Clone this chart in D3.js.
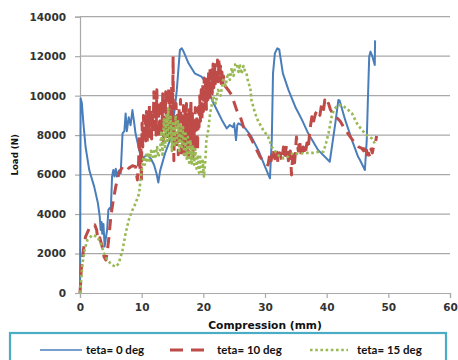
<!DOCTYPE html>
<html>
<head>
<meta charset="utf-8">
<script src="https://cdn.jsdelivr.net/npm/d3@7"></script>
<style>
  html, body { margin: 0; padding: 0; background: #fff; }
  svg { display: block; }
</style>
</head>
<body>
<svg id="chart" width="458" height="360"></svg>
<script>
// Load vs compression for three cutting angles: [compression (mm), load (N)]
const teta0 = [
  [0,0],[0.1,9870],[0.3,9630],[0.55,8600],[0.9,7410],[1.5,6230],[2.3,5390],[2.9,4560],
  [3.2,3870],[3.35,3190],[3.5,3600],[3.6,3000],[3.8,3500],[4.0,2350],[4.2,2800],[4.4,3190],
  [4.6,4200],[4.8,4300],[5.0,4250],[5.2,5890],[5.4,6230],[5.6,5900],[5.8,6300],[6.0,5900],
  [6.3,6200],[6.6,6065],[6.9,8090],[7.2,8200],[7.4,9100],[7.6,8200],[7.9,8900],[8.2,8500],
  [8.5,9270],[8.8,8600],[9.0,8090],[9.5,7400],[10.0,6700],[10.4,6900],[11.0,7000],[11.5,6800],
  [12.0,6500],[12.4,6065],[12.7,5600],[13.0,6200],[13.8,7080],[14.6,7750],[15.1,8600],
  [15.7,10290],[16.2,12310],[16.5,12400],[16.8,12230],[17.6,11640],[18.6,11130],[19.7,10960],
  [20.5,10630],[21.4,9780],[22.2,9270],[23.0,8770],[23.8,8340],[24.3,8510],[24.8,8400],
  [25.0,8600],[25.3,7750],[25.5,8500],[25.7,8600],[26.2,8510],[26.8,8340],[27.8,7920],
  [28.9,7250],[30.0,6400],[30.8,5810],[31.1,7750],[31.3,11130],[31.6,12140],[32.0,12400],
  [32.3,12350],[32.9,11130],[33.8,10290],[34.9,9440],[36.0,8770],[37.0,8090],[38.6,7250],
  [40.5,6650],[41.4,8600],[41.9,9780],[42.1,9750],[43.0,8770],[44.1,7750],[45.1,6900],
  [45.4,6740],[46.2,6230],[46.5,7750],[46.7,9950],[46.9,11980],[47.1,12230],[47.4,12000],
  [47.8,11550],[47.85,12800]
];

const teta10 = [
  [0,0],[0.1,500],[0.2,1170],[0.55,2180],[0.9,2850],[1.5,3280],[2.0,3360],[2.4,3450],
  [2.7,3190],[2.9,2690],[3.2,2800],[3.6,2350],[3.9,1840],[4.2,1670],[4.4,2010],[4.7,2850],
  [5.0,3870],[5.4,4710],[5.8,5390],[6.3,6065],[6.9,6400],[7.4,6490],[7.9,6320],[8.5,6450],
  [9.0,6400],[9.3,5730],
  [9.5,6600],[9.62,8000],[9.74,6200],[9.86,7800],[9.95,5600],[10.06,8600],[10.18,7400],
  [10.3,9000],[10.42,7600],[10.54,8900],[10.66,7700],[10.78,9200],[10.9,7600],[11.02,9300],
  [11.14,8100],[11.26,9500],[11.38,7900],[11.5,9300],[11.62,7800],[11.74,9100],[11.86,8200],
  [11.98,10200],[12.1,8700],[12.22,9600],[12.34,8000],[12.46,10300],[12.58,8800],[12.7,9700],
  [12.82,7900],[12.94,9400],[13.06,8500],[13.18,9800],[13.3,8200],[13.42,10100],[13.54,7700],
  [13.66,9500],[13.78,8100],[13.9,10200],[14.02,7800],[14.14,9300],[14.26,8300],[14.38,10400],
  [14.5,7900],[14.62,9700],[14.74,8500],[14.86,10500],[14.98,8200],[15.06,10600],[15.1,12000],
  [15.16,8300],[15.22,6700],[15.34,9000],[15.46,7800],[15.58,9600],[15.7,7300],[15.82,9200],
  [15.94,7000],[16.06,9400],[16.18,7600],[16.3,9800],[16.42,7100],[16.54,9000],[16.66,7400],
  [16.78,9500],[16.9,7000],[17.02,9200],[17.14,7600],[17.26,9600],[17.38,7200],[17.5,9000],
  [17.62,6900],[17.74,9300],[17.86,7800],[17.98,9800],[18.1,7500],[18.22,9100],[18.34,6900],
  [18.46,8700],[18.58,7300],[18.7,9400],[18.82,7600],[18.94,9000],[19.06,7200],[19.18,9400],
  [19.3,8400],[19.42,10000],[19.54,8700],[19.66,10300],[19.78,8800],[19.9,10600],[20.02,9200],
  [20.14,10900],[20.26,9400],[20.38,11000],[20.5,9300],[20.62,10700],[20.74,9800],[20.86,11200],
  [20.98,9900],[21.1,11500],[21.22,10300],[21.34,11300],[21.46,10100],[21.58,11600],[21.7,10400],
  [21.82,11700],[21.94,10600],[22.06,11300],[22.18,10500],[22.3,11800],[22.42,10700],[22.54,11900],
  [22.66,10900],[22.78,11500],[22.9,10600],[23.02,11200],[23.14,10500],[23.26,11000],[23.5,10500],
  [24.0,10300],[24.6,10030],[25.4,9270],[26.0,8930],[26.5,8430],[27.0,8200],[27.6,7920],
  [28.4,7410],[29.2,6900],[30.0,6570],[30.5,6490],[30.8,7100],[31.0,6700],[31.3,7300],
  [31.6,6800],[31.9,7250],[32.1,6600],[32.4,7100],[32.7,6700],[33.0,7400],[33.2,6900],
  [33.5,7500],[33.8,6700],[34.1,7200],[34.3,5980],[34.5,7000],[34.8,6600],[35.1,7900],
  [35.4,7200],[35.6,7750],[35.9,6900],[36.2,7400],[36.5,7000],[36.8,7600],[37.0,7300],
  [37.3,8300],[37.6,8930],[37.8,8600],[38.2,9100],[38.6,9270],[38.9,9000],[39.2,9600],
  [39.5,9300],[39.7,9780],[40.0,9500],[40.3,9610],[40.6,9300],[41.0,9100],[41.6,8900],
  [42.2,8700],[42.7,8430],[43.8,7920],[44.6,7590],[45.2,7400],[45.7,7330],[46.0,7200],
  [46.3,7500],[46.6,7000],[46.8,7080],[47.0,6900],[47.2,7300],[47.4,7100],[47.6,7410],
  [47.9,7600],[48.1,7950]
];

const teta15 = [
  [0,0],[0.2,700],[0.4,1500],[0.75,2180],[1.2,2690],[2.0,2940],[2.8,2850],[3.35,2520],
  [3.9,2010],[4.4,1670],[5.2,1420],[5.8,1330],[6.3,1500],[6.9,2180],[7.4,3020],[7.9,3700],
  [8.5,4200],[9.0,4540],[9.6,5050],[9.8,5730],[10.1,6400],[10.3,6900],[10.5,6500],[10.7,7000],
  [10.9,6600],[11.1,7100],[11.3,6700],[11.5,7200],[11.8,6900],[12.0,7300],[12.2,6800],
  [12.5,7400],[12.7,6900],[13.0,7250],[13.2,8200],[13.4,6900],[13.6,8800],[13.8,7400],
  [14.0,9000],[14.2,7600],[14.3,9360],[14.5,7700],[14.7,8930],[14.9,7200],[15.1,8600],
  [15.3,7400],[15.5,9000],[15.7,7600],[15.9,8700],[16.1,7200],[16.3,8500],[16.5,7400],
  [16.7,8400],[16.9,6900],[17.1,8200],[17.3,6800],[17.5,7900],[17.7,6600],[17.9,7750],
  [18.1,6570],[18.3,7500],[18.5,6500],[18.7,7300],[18.9,6300],[19.1,7000],[19.3,6100],
  [19.5,6900],[19.7,6000],[19.9,6700],[20.1,5900],[20.3,6600],[20.5,7750],[20.8,8260],
  [21.1,9100],[21.6,9950],[22.0,9600],[22.4,10290],[22.8,10000],[23.2,10790],[23.6,10500],
  [24.0,11130],[24.3,10800],[24.6,11400],[24.9,11000],[25.2,11600],[25.4,11640],[25.7,11200],
  [25.9,11600],[26.2,11100],[26.5,11500],[26.8,11200],[27.0,11130],[27.3,10630],[27.6,10450],
  [27.8,9780],[28.1,9440],[28.4,9100],[28.9,8700],[29.7,8260],[30.5,7920],[31.1,7410],
  [31.6,7200],[32.4,6900],[33.0,6820],[33.5,6850],[34.0,7000],[34.6,7080],[35.4,7050],
  [36.2,7080],[37.0,7100],[37.8,7100],[38.6,7150],[39.5,7160],[39.9,7600],[40.3,8090],
  [40.8,8930],[41.2,9300],[41.6,9440],[42.0,9500],[42.4,9530],[43.2,9360],[44.1,9100],
  [44.9,8600],[45.7,8260],[46.5,8000],[47.3,7840],[47.8,7580]
];

const seriesNames = ["teta= 0 deg", "teta= 10 deg", "teta= 15 deg"];
const xTicks = [0, 10, 20, 30, 40, 50, 60];
const yTicks = [0, 2000, 4000, 6000, 8000, 10000, 12000, 14000];
const xTitle = "Compression (mm)";
const yTitle = "Load (N)";

// Layout and styling
const plot = { left: 80, right: 450, top: 16.7, bottom: 293 };
const seriesStyle = [
  { color: "#4a7ebb", width: 2,   dash: null },
  { color: "#be4b48", width: 3,   dash: "11,7" },
  { color: "#98b954", width: 2.6, dash: "2.6,2.6" }
];
const gridColor = "#a9a9a9";
const tickFont = "'DejaVu Sans', Verdana, sans-serif";

const svg = d3.select("#chart");

const x = d3.scaleLinear().domain([0, 60]).range([plot.left, plot.right]);
const y = d3.scaleLinear().domain([0, 14000]).range([plot.bottom, plot.top]);

// Horizontal gridlines
svg.append("g")
  .selectAll("line")
  .data(yTicks.filter(d => d > 0))
  .join("line")
  .attr("x1", plot.left).attr("x2", plot.right)
  .attr("y1", d => y(d)).attr("y2", d => y(d))
  .attr("stroke", gridColor).attr("stroke-width", 1.2);

// Y axis
const yAxis = svg.append("g")
  .attr("transform", `translate(${plot.left},0)`)
  .call(d3.axisLeft(y).tickValues(yTicks).tickSize(5).tickPadding(9).tickFormat(d3.format("d")));
yAxis.select(".domain").attr("stroke", gridColor).attr("stroke-width", 1.2);
yAxis.selectAll(".tick line").attr("stroke", gridColor).attr("stroke-width", 1.2);
yAxis.selectAll("text")
  .attr("font-family", tickFont).attr("font-weight", "bold")
  .attr("font-size", 10.5).attr("fill", "#333");

// X axis
const xAxis = svg.append("g")
  .attr("transform", `translate(0,${plot.bottom})`)
  .call(d3.axisBottom(x).tickValues(xTicks).tickSize(5).tickPadding(6).tickFormat(d3.format("d")));
xAxis.select(".domain").attr("stroke", gridColor).attr("stroke-width", 1.2);
xAxis.selectAll(".tick line").attr("stroke", gridColor).attr("stroke-width", 1.2);
xAxis.selectAll("text")
  .attr("font-family", tickFont).attr("font-weight", "bold")
  .attr("font-size", 10.5).attr("fill", "#333");

// Axis titles
svg.append("text")
  .attr("x", (plot.left + plot.right) / 2).attr("y", 329)
  .attr("text-anchor", "middle")
  .attr("font-family", tickFont).attr("font-weight", "bold")
  .attr("font-size", 10.7).attr("fill", "#111")
  .text(xTitle);

svg.append("text")
  .attr("transform", `translate(18,${(plot.top + plot.bottom) / 2}) rotate(-90)`)
  .attr("text-anchor", "middle")
  .attr("font-family", tickFont).attr("font-weight", "bold")
  .attr("font-size", 8.6).attr("fill", "#111")
  .text(yTitle);

// Curves
const line = d3.line().x(d => x(d[0])).y(d => y(d[1]));
const allSeries = [teta0, teta10, teta15];

svg.append("g")
  .selectAll("path")
  .data(allSeries)
  .join("path")
  .attr("d", d => line(d))
  .attr("fill", "none")
  .attr("stroke", (d, i) => seriesStyle[i].color)
  .attr("stroke-width", (d, i) => seriesStyle[i].width)
  .attr("stroke-dasharray", (d, i) => seriesStyle[i].dash)
  .attr("stroke-linejoin", "round");

// Legend box along the bottom
svg.append("rect")
  .attr("x", 10).attr("y", 333)
  .attr("width", 436).attr("height", 40)
  .attr("fill", "#fff")
  .attr("stroke", "#4bacc6").attr("stroke-width", 2.2);

const legendItems = [
  { x1: 40, x2: 82, tx: 86 },
  { x1: 170, x2: 212, tx: 217 },
  { x1: 310, x2: 348, tx: 357 }
];
const legendY = 350;
const legend = svg.append("g")
  .selectAll("g")
  .data(seriesNames)
  .join("g");

legend.append("line")
  .attr("x1", (d, i) => legendItems[i].x1)
  .attr("x2", (d, i) => legendItems[i].x2)
  .attr("y1", legendY).attr("y2", legendY)
  .attr("stroke", (d, i) => seriesStyle[i].color)
  .attr("stroke-width", (d, i) => i === 0 ? 1.6 : seriesStyle[i].width)
  .attr("stroke-dasharray", (d, i) => i === 1 ? "13,8" : seriesStyle[i].dash);

legend.append("text")
  .attr("x", (d, i) => legendItems[i].tx)
  .attr("y", legendY + 4)
  .attr("font-family", "Lato, 'Open Sans', sans-serif")
  .attr("font-weight", "bold")
  .attr("font-size", 11.5)
  .attr("fill", "#111")
  .text(d => d);
</script>
</body>
</html>
